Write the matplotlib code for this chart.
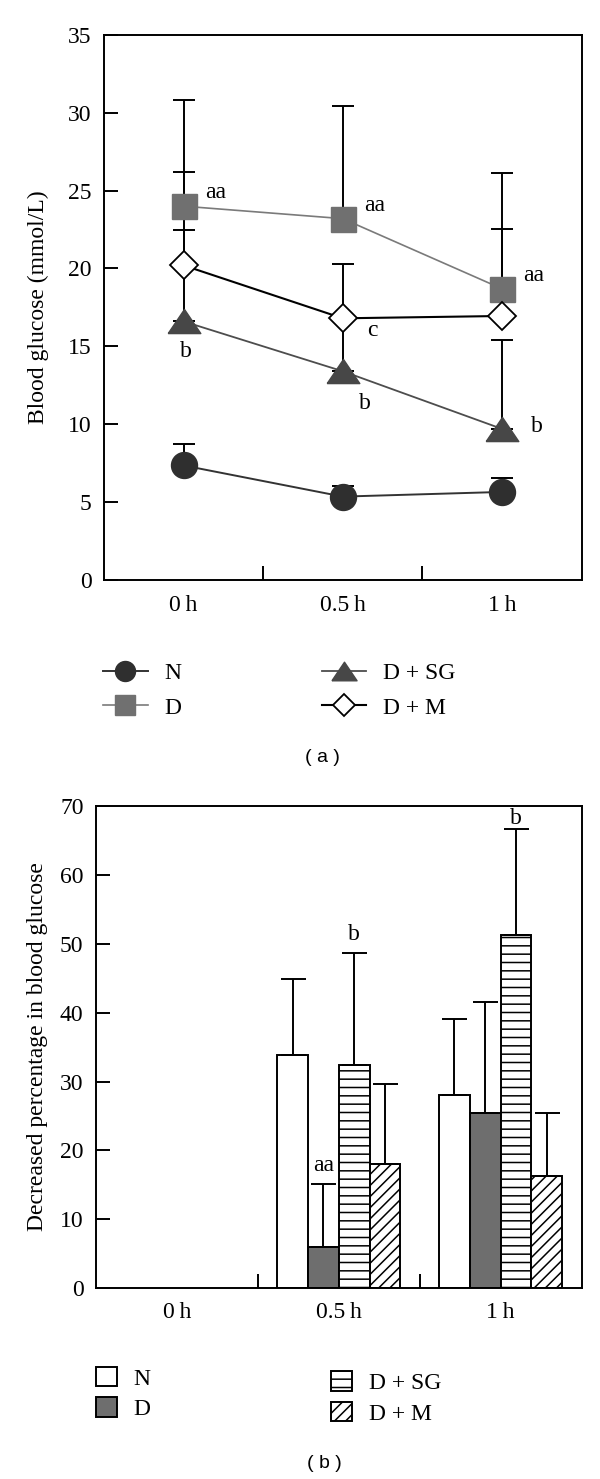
import numpy as np
import matplotlib.pyplot as plt

plt.rcParams['font.family'] = ['Liberation Serif', 'DejaVu Serif']
plt.rcParams['hatch.linewidth'] = 1.1

times = ['0\u2009h', '0.5\u2009h', '1\u2009h']
x = np.arange(len(times))

# ---- panel (a): blood glucose (mmol/L), upper error bars only ----
n_mean = [7.35, 5.35, 5.65]
n_err = [1.4, 0.7, 0.9]
d_mean = [24.0, 23.2, 18.7]
d_err = [2.2, 7.25, 3.85]
sg_mean = [16.6, 13.4, 9.7]
sg_err = [14.2, 3.4, 5.7]
m_mean = [20.2, 16.8, 16.95]
m_err = [2.3, 3.5, 9.2]

d_marks = ['aa', 'aa', 'aa']
sg_marks = ['b', 'b', 'b']
m_marks = ['', 'c', '']

# ---- panel (b): decreased percentage, 0.5 h and 1 h ----
groups = ['N', 'D', 'D + SG', 'D + M']
bar_times = [1, 2]
dec_n = [33.9, 28.1]
dec_n_err = [11.0, 11.0]
dec_d = [6.0, 25.5]
dec_d_err = [9.2, 16.1]
dec_sg = [32.4, 51.2]
dec_sg_err = [16.3, 15.4]
dec_m = [18.1, 16.3]
dec_m_err = [11.6, 9.2]

dec_marks = {'D': ['aa', ''], 'D + SG': ['b', 'b']}

FS = 17
fig = plt.figure(figsize=(6, 14.79), dpi=100)
ax1 = fig.add_axes([0.1733, 0.6079, 0.7959, 0.3685])
ax2 = fig.add_axes([0.16, 0.1289, 0.8092, 0.3263])

# triangle a bit wider than tall, like the original
tri = [(-1, -0.74), (1, -0.74), (0, 0.74), (-1, -0.74)]

series = [
    ('N', n_mean, n_err, dict(marker='o', ms=18.7, color='#333333', mfc='#2f2f2f', mec='#2f2f2f', lw=1.4)),
    ('D', d_mean, d_err, dict(marker='s', ms=18, color='#7a7a7a', mfc='#707070', mec='#707070', lw=1.2)),
    ('D + SG', sg_mean, sg_err, dict(marker=tri, ms=23.5, color='#4d4d4d', mfc='#474747', mec='#474747', lw=1.3)),
    ('D + M', m_mean, m_err, dict(marker='D', ms=14.3, color='black', mfc='white', mec='black', mew=1.3, lw=1.5)),
]

handles = {}
for name, mean, err, style in series:
    ax1.errorbar(x, mean, yerr=[np.zeros(len(err)), err], fmt='none', ecolor='black',
                 elinewidth=1.4, capsize=7.7, capthick=1.4, zorder=1)
for name, mean, err, style in series:
    handles[name], = ax1.plot(x, mean, label=name, zorder=3, **style)

# significance letters
for i in range(3):
    ax1.annotate(d_marks[i], (x[i], d_mean[i]), xytext=(23, 9.5), textcoords='offset points',
                 ha='center', va='center', fontsize=FS)
sg_off = [(2, -22), (16, -23), (25, 2)]
for i in range(3):
    ax1.annotate(sg_marks[i], (x[i], sg_mean[i]), xytext=sg_off[i], textcoords='offset points',
                 ha='center', va='center', fontsize=FS)
for i in range(3):
    if m_marks[i]:
        ax1.annotate(m_marks[i], (x[i], m_mean[i]), xytext=(21, -9), textcoords='offset points',
                     ha='center', va='center', fontsize=FS)

ax1.set_ylim(0, 35)
ax1.set_yticks(np.arange(0, 36, 5))
ax1.set_ylabel('Blood glucose (mmol/L)', fontsize=FS)
ax1.yaxis.set_label_coords(-0.115, 0.5)

# bars
w = 0.19
bar_data = [
    ('N', dec_n, dec_n_err, dict(color='white')),
    ('D', dec_d, dec_d_err, dict(color='#6e6e6e')),
    ('D + SG', dec_sg, dec_sg_err, dict(color='white', hatch='--')),
    ('D + M', dec_m, dec_m_err, dict(color='white', hatch='///')),
]
bar_handles = {}
for k, (name, vals, errs, style) in enumerate(bar_data):
    pos = np.array(bar_times) + (k - 1.5) * w
    bar_handles[name] = ax2.bar(pos, vals, width=w, edgecolor='black', linewidth=1.4,
                                label=name, zorder=2, **style)
    ax2.errorbar(pos, vals, yerr=[np.zeros(len(errs)), errs], fmt='none', ecolor='black',
                 elinewidth=1.4, capsize=9, capthick=1.4, zorder=3)
    if name in dec_marks:
        for j, lab in enumerate(dec_marks[name]):
            if lab:
                dy = 8 if vals[j] + errs[j] > 60 else 13
                ax2.annotate(lab, (pos[j], vals[j] + errs[j]), xytext=(0, dy),
                             textcoords='offset points', ha='center', va='center', fontsize=FS)

ax2.set_ylim(0, 70)
ax2.set_yticks(np.arange(0, 71, 10))
ax2.set_ylabel('Decreased percentage in blood glucose', fontsize=FS)
ax2.yaxis.set_label_coords(-0.099, 0.5)

for ax, xpad in ((ax1, 11), (ax2, 10)):
    ax.set_xlim(-0.5, 2.5)
    ax.set_xticks(x)
    ax.set_xticklabels(times)
    ax.set_xticks([0.5, 1.5], minor=True)
    ax.tick_params(axis='x', which='major', length=0, pad=xpad, labelsize=FS)
    ax.tick_params(axis='x', which='minor', direction='in', length=10, width=1.4)
    ax.tick_params(axis='y', direction='in', length=10, width=1.4, pad=9, labelsize=FS)
    for s in ax.spines.values():
        s.set_linewidth(1.4)

# legends
common = dict(frameon=False, fontsize=FS, borderpad=0, borderaxespad=0,
              handletextpad=0.7, loc='center left')
fig.legend(handles=[handles['N'], handles['D']], bbox_to_anchor=(0.1717, 0.5331),
           handlelength=1.9, markerscale=0.77, labelspacing=0.55, **common)
fig.legend(handles=[handles['D + SG'], handles['D + M']], bbox_to_anchor=(0.536, 0.5331),
           handlelength=1.9, markerscale=0.77, labelspacing=0.55, **common)
fig.legend(handles=[bar_handles['N'], bar_handles['D']], bbox_to_anchor=(0.16, 0.0578),
           handlelength=0.89, handleheight=0.89, labelspacing=0.32, **common)
fig.legend(handles=[bar_handles['D + SG'], bar_handles['D + M']], bbox_to_anchor=(0.5517, 0.0548),
           handlelength=0.89, handleheight=0.89, labelspacing=0.32, **common)

fig.text(0.538, 0.4875, '( a )', ha='center', va='center', family='Liberation Sans', fontsize=14)
fig.text(0.54, 0.0108, '( b )', ha='center', va='center', family='Liberation Sans', fontsize=14)

fig.savefig('out.png', dpi=100)
